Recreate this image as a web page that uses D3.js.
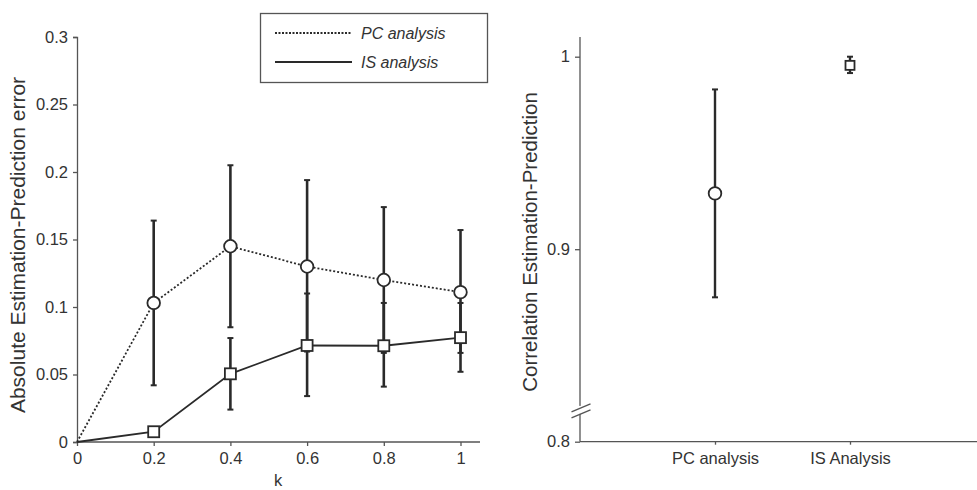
<!DOCTYPE html>
<html><head><meta charset="utf-8">
<script src="https://cdn.jsdelivr.net/npm/d3@7"></script>
<style>body{margin:0;background:#fff}svg{display:block;font-family:"Liberation Sans",Arial,sans-serif}</style>
</head><body><svg id="c" width="977" height="490"></svg>
<script>
// ---- data ----
const kValues = [0, 0.2, 0.4, 0.6, 0.8, 1];
const kTicks = [0, 0.2, 0.4, 0.6, 0.8, 1];
const errTicks = [0, 0.05, 0.1, 0.15, 0.2, 0.25, 0.3];
const pcMean = [0, 0.103, 0.145, 0.130, 0.120, 0.111];
const pcLow  = [null, 0.042, 0.085, 0.067, 0.066, 0.066];
const pcHigh = [null, 0.164, 0.205, 0.194, 0.174, 0.157];
const isMean = [0, 0.0076, 0.0505, 0.0715, 0.0713, 0.0773];
const isLow  = [null, null, 0.024, 0.034, 0.041, 0.052];
const isHigh = [null, null, 0.077, 0.110, 0.103, 0.103];
const legendLabels = ["PC analysis", "IS analysis"];

const corrCategories = ["PC analysis", "IS Analysis"];
const corrMean = [0.929, 0.9955];
const corrLow = [0.875, 0.9915];
const corrHigh = [0.983, 1.0];
const corrTicks = [0.8, 0.9, 1];

const svg = d3.select("#c");
const axisCol = "#555", ink = "#2a2a2a", txt = "#333";
const FONT = "Liberation Sans, Arial, sans-serif";

// ---- left panel ----
const x = d3.scaleLinear().domain([0, 1]).range([77, 460.5]);
const y = d3.scaleLinear().domain([0, 0.3]).range([442, 37]);
const L = svg.append("g");

const xAx = L.append("g").attr("transform", "translate(0,442)")
  .call(d3.axisBottom(x).tickValues(kTicks).tickSize(4).tickPadding(6).tickFormat(d3.format("~g")));
xAx.select(".domain").attr("d", `M77,0H480`);
const yAx = L.append("g").attr("transform", "translate(77,0)")
  .call(d3.axisLeft(y).tickValues(errTicks).tickSize(4).tickPadding(5).tickFormat(d3.format("~g")));
[xAx, yAx].forEach(a => {
  a.selectAll("path,line").attr("stroke", axisCol).attr("stroke-width", 1.3);
  a.selectAll("text").attr("fill", txt).attr("font-size", 16.5).attr("font-family", FONT);
});
L.append("text").attr("x", 278).attr("y", 486).attr("text-anchor", "middle")
  .attr("font-size", 16.5).attr("fill", txt).text("k");
L.append("text").attr("transform", "translate(25,245) rotate(-90)").attr("text-anchor", "middle")
  .attr("font-size", 21).attr("fill", txt).text("Absolute Estimation-Prediction error");

function errBars(g, xs, lo, hi) {
  xs.forEach((k, i) => {
    if (lo[i] == null) return;
    g.append("line").attr("x1", x(k)).attr("x2", x(k)).attr("y1", y(lo[i])).attr("y2", y(hi[i]))
      .attr("stroke", ink).attr("stroke-width", 2.6);
    [lo[i], hi[i]].forEach(v => g.append("line").attr("x1", x(k) - 3).attr("x2", x(k) + 3)
      .attr("y1", y(v)).attr("y2", y(v)).attr("stroke", ink).attr("stroke-width", 2));
  });
}
errBars(L, kValues, pcLow, pcHigh);
errBars(L, kValues, isLow, isHigh);

const line = d3.line().x((d, i) => x(kValues[i])).y(d => y(d));
L.append("path").attr("d", line(pcMean)).attr("fill", "none").attr("stroke", ink)
  .attr("stroke-width", 1.8).attr("stroke-dasharray", "2,2");
L.append("path").attr("d", line(isMean)).attr("fill", "none").attr("stroke", ink).attr("stroke-width", 1.8);

kValues.forEach((k, i) => {
  if (i === 0) return;
  L.append("circle").attr("cx", x(k)).attr("cy", y(pcMean[i])).attr("r", 6.3)
    .attr("fill", "#fff").attr("stroke", ink).attr("stroke-width", 1.8);
  L.append("rect").attr("x", x(k) - 5.5).attr("y", y(isMean[i]) - 5.5).attr("width", 11).attr("height", 11)
    .attr("fill", "#fff").attr("stroke", ink).attr("stroke-width", 1.8);
});

// legend
const lg = L.append("g");
lg.append("rect").attr("x", 260.5).attr("y", 13.5).attr("width", 227).attr("height", 69)
  .attr("fill", "#fff").attr("stroke", axisCol).attr("stroke-width", 1.3);
lg.append("line").attr("x1", 275).attr("x2", 352).attr("y1", 33).attr("y2", 33)
  .attr("stroke", ink).attr("stroke-width", 1.8).attr("stroke-dasharray", "2,1.5");
lg.append("line").attr("x1", 275).attr("x2", 352).attr("y1", 62).attr("y2", 62)
  .attr("stroke", ink).attr("stroke-width", 1.8);
legendLabels.forEach((t, i) => lg.append("text").attr("x", 361).attr("y", 39 + i * 29)
  .attr("font-size", 16).attr("font-style", "italic").attr("fill", txt).text(t));

// ---- right panel ----
const xc = d3.scalePoint().domain(corrCategories).range([715, 850]);
const yc = d3.scaleLinear().domain([0.8, 1]).range([441.7, 56.7]);
const R = svg.append("g");
const xcAx = R.append("g").attr("transform", "translate(0,441.7)")
  .call(d3.axisBottom(xc).tickSize(3).tickPadding(8));
xcAx.select(".domain").attr("d", "M580,0H977");
const ycAx = R.append("g").attr("transform", "translate(580,0)")
  .call(d3.axisLeft(yc).tickValues(corrTicks).tickSize(5).tickPadding(5).tickFormat(d3.format("~g")));
ycAx.select(".domain").attr("d", `M0,${yc(0.8)}V37`);
[xcAx, ycAx].forEach(a => {
  a.selectAll("path,line").attr("stroke", axisCol).attr("stroke-width", 1.3);
  a.selectAll("text").attr("fill", txt).attr("font-size", 16.5).attr("font-family", FONT);
});
// axis break marks
const by = yc(0.816);
R.append("rect").attr("x", 577).attr("y", by - 5).attr("width", 6).attr("height", 8).attr("fill", "#fff");
[-3, 3].forEach(o => R.append("line").attr("x1", 571.5).attr("x2", 590.5)
  .attr("y1", by + o + 4).attr("y2", by + o - 4).attr("stroke", axisCol).attr("stroke-width", 1.3));
R.append("text").attr("transform", "translate(537,242) rotate(-90)").attr("text-anchor", "middle")
  .attr("font-size", 20.5).attr("fill", txt).text("Correlation Estimation-Prediction");

corrCategories.forEach((c, i) => {
  const cx = xc(c);
  R.append("line").attr("x1", cx).attr("x2", cx).attr("y1", yc(corrLow[i])).attr("y2", yc(corrHigh[i]))
    .attr("stroke", ink).attr("stroke-width", 2.4);
  [corrLow[i], corrHigh[i]].forEach(v => R.append("line").attr("x1", cx - 3).attr("x2", cx + 3)
    .attr("y1", yc(v)).attr("y2", yc(v)).attr("stroke", ink).attr("stroke-width", 2));
});
R.append("circle").attr("cx", xc(corrCategories[0])).attr("cy", yc(corrMean[0])).attr("r", 6.3)
  .attr("fill", "#fff").attr("stroke", ink).attr("stroke-width", 1.8);
R.append("rect").attr("x", xc(corrCategories[1]) - 4.5).attr("y", yc(corrMean[1]) - 4.5)
  .attr("width", 9).attr("height", 9).attr("fill", "#fff").attr("stroke", ink).attr("stroke-width", 1.8);
</script></body></html>
